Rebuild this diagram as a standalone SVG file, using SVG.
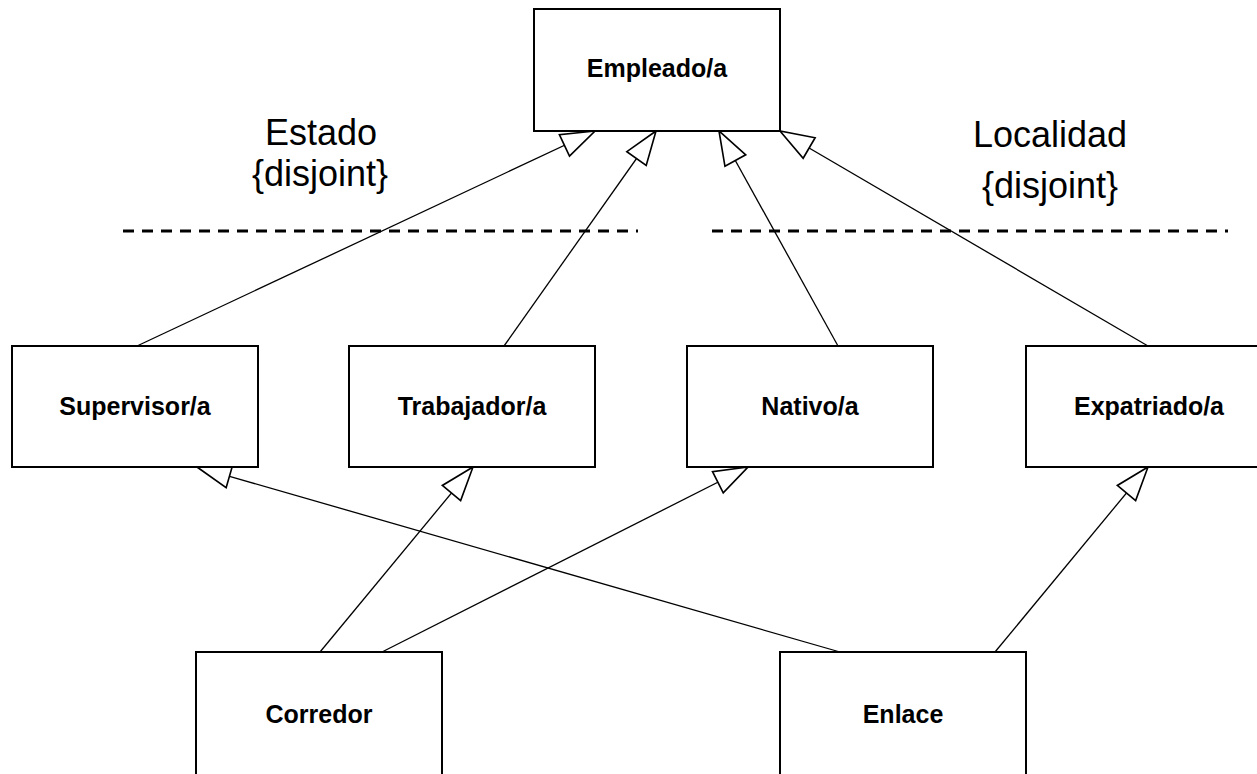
<svg xmlns="http://www.w3.org/2000/svg" width="1257" height="774" viewBox="0 0 1257 774">
<style>
.box{fill:#fff;stroke:#000;stroke-width:2}
.lbl{font-family:"Liberation Sans",Arial,sans-serif;font-weight:bold;font-size:25px;text-anchor:middle;fill:#000}
.big{font-family:"Liberation Sans",Arial,sans-serif;font-size:36px;text-anchor:middle;fill:#000}
.con{fill:none;stroke:#000;stroke-width:1.3;marker-end:url(#tri)}
.dash{stroke:#000;stroke-width:3;stroke-dasharray:11 8}
</style>
<defs>
<marker id="tri" markerUnits="userSpaceOnUse" markerWidth="40" markerHeight="30" viewBox="-30 -12 32 24" refX="0" refY="0" orient="auto">
<path d="M0,0 L-27,-9.5 L-27,9.5 Z" fill="#fff" stroke="#000" stroke-width="1.3" stroke-linejoin="miter"/>
</marker>
</defs>
<rect width="1257" height="774" fill="#fff"/>
<g id="connectors">
<line class="con" x1="137" y1="346" x2="595" y2="131"/>
<line class="con" x1="504" y1="346" x2="656" y2="131"/>
<line class="con" x1="838" y1="346" x2="719" y2="131"/>
<line class="con" x1="1148" y1="346" x2="780" y2="131"/>
<line class="con" x1="840" y1="652" x2="197" y2="467"/>
<line class="con" x1="320" y1="652" x2="473" y2="467"/>
<line class="con" x1="382" y1="652" x2="748" y2="467"/>
<line class="con" x1="995" y1="652" x2="1148" y2="467"/>
</g>
<g id="separators">
<line class="dash" x1="123" y1="231" x2="638" y2="231"/>
<line class="dash" x1="712" y1="231" x2="1228" y2="231"/>
</g>
<g id="label-estado">
<text class="big" x="321" y="145">Estado</text>
<text class="big" x="320" y="186">{disjoint}</text>
</g>
<g id="label-localidad">
<text class="big" x="1050" y="147">Localidad</text>
<text class="big" x="1050" y="198">{disjoint}</text>
</g>
<g id="empleado">
<rect class="box" x="534" y="9" width="246" height="122"/>
<text class="lbl" x="657" y="77">Empleado/a</text>
</g>
<g id="supervisor">
<rect class="box" x="12" y="346" width="246" height="121"/>
<text class="lbl" x="135" y="415">Supervisor/a</text>
</g>
<g id="trabajador">
<rect class="box" x="349" y="346" width="246" height="121"/>
<text class="lbl" x="472" y="415">Trabajador/a</text>
</g>
<g id="nativo">
<rect class="box" x="687" y="346" width="246" height="121"/>
<text class="lbl" x="810" y="415">Nativo/a</text>
</g>
<g id="expatriado">
<rect class="box" x="1026" y="346" width="246" height="121"/>
<text class="lbl" x="1149" y="415">Expatriado/a</text>
</g>
<g id="corredor">
<rect class="box" x="196" y="652" width="246" height="140"/>
<text class="lbl" x="319" y="723">Corredor</text>
</g>
<g id="enlace">
<rect class="box" x="780" y="652" width="246" height="140"/>
<text class="lbl" x="903" y="723">Enlace</text>
</g>
</svg>
